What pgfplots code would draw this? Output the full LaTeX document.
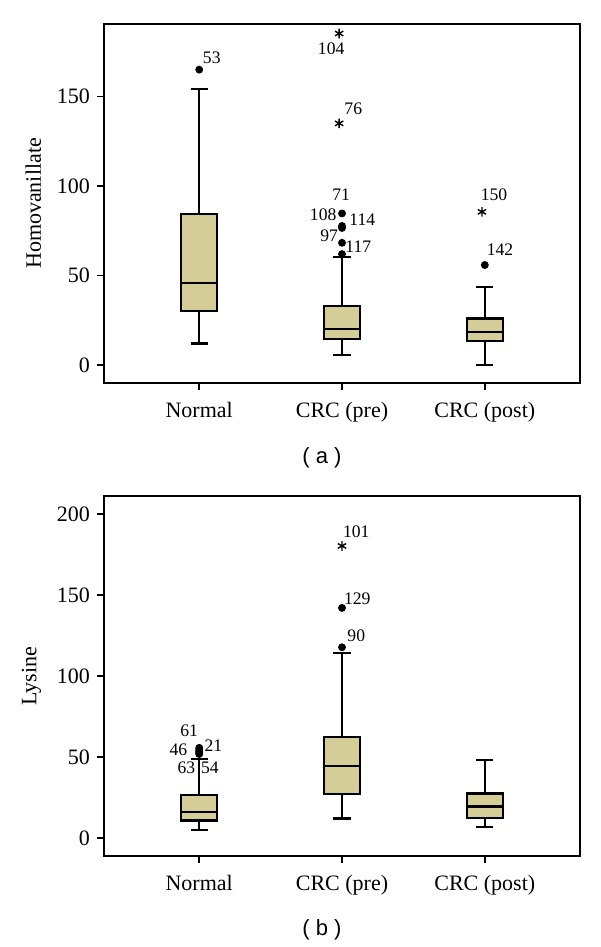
\documentclass[border=0pt]{standalone}
\usepackage{fontspec}
\setmainfont{Liberation Serif}
\newfontfamily\capfont{Liberation Sans}
\usepackage{pgfplots}
\pgfplotsset{compat=1.18}
\usepgfplotslibrary{statistics}
\definecolor{boxfill}{RGB}{212,205,152}
\tikzset{lab/.style={font=\fontsize{8.8}{10}\selectfont, inner sep=0pt}}
\pgfplotsset{
  myaxis/.style={
    scale only axis,
    width=238pt,
    xmin=1/3, xmax=3+2/3,
    xtick={1,2,3},
    xticklabels={Normal, CRC (pre), CRC (post)},
    tick align=outside,
    xtick pos=bottom,
    ytick pos=left,
    major tick length=3.5pt,
    every tick/.style={black, line width=0.8pt},
    axis line style={black, line width=0.8pt},
    tick label style={font=\fontsize{11}{13}\selectfont},
    xticklabel style={yshift=-2.5pt},
    label style={font=\fontsize{11}{13}\selectfont},
    ylabel style={xshift=0pt, yshift=1pt},
    /pgf/number format/assume math mode=true,
    clip=false,
    boxplot/draw direction=y,
  },
  mybox/.style={fill=boxfill, draw=black, line width=1.1pt,
    boxplot/draw direction=y,
    boxplot/box extend=0.25, boxplot/whisker extend=0.12},
  dot/.style={only marks, mark=*, mark size=1.75pt, black},
  star/.style={only marks, mark=asterisk, mark size=2.4pt, black, mark options={line width=0.7pt}},
}
\begin{document}
\begin{tikzpicture}
\path[use as bounding box] (0,0) rectangle (300pt,-473.5pt);
% ---------------- (a)
\begin{axis}[myaxis, at={(52pt,-12pt)}, anchor=north west,
  height=179.5pt, ymin=-10, ymax=190.5, ytick={0,50,100,150},
  ylabel={Homovanillate}]
\addplot[mybox, boxplot prepared={draw position=1, lower whisker=12.1, lower quartile=30.2, median=46, upper quartile=84.4, upper whisker=154}] coordinates {};
\addplot[mybox, boxplot prepared={draw position=2, lower whisker=5.6, lower quartile=14.5, median=20, upper quartile=33, upper whisker=60.5}] coordinates {};
\addplot[mybox, boxplot prepared={draw position=3, lower whisker=0, lower quartile=13.6, median=18.6, upper quartile=26, upper whisker=43.4}] coordinates {};
\addplot[dot] coordinates {(1,165) (2,84.7) (2,77.7) (2,76.6) (2,68.3) (2,62) (3,55.9)};
\addplot[star] coordinates {(1.98,185.2) (1.98,135) (2.98,85.6)};
\node[lab] at (axis cs:1.088,171.5) {53};
\node[lab] at (axis cs:1.924,176.5) {104};
\node[lab] at (axis cs:2.079,143) {76};
\node[lab] at (axis cs:1.994,95) {71};
\node[lab] at (axis cs:1.868,84.2) {108};
\node[lab] at (axis cs:2.142,81.4) {114};
\node[lab] at (axis cs:1.910,72.2) {97};
\node[lab] at (axis cs:2.114,66.1) {117};
\node[lab] at (axis cs:3.065,95) {150};
\node[lab] at (axis cs:3.107,64.6) {142};
\end{axis}
\node[font=\capfont\fontsize{11}{13}\selectfont] at (161pt,-229pt) {( a )};
% ---------------- (b)
\begin{axis}[myaxis, at={(52pt,-248pt)}, anchor=north west,
  height=180pt, ymin=-11, ymax=211, ytick={0,50,100,150,200},
  ylabel={Lysine}]
\addplot[mybox, boxplot prepared={draw position=1, lower whisker=5.1, lower quartile=10.9, median=16.2, upper quartile=26.5, upper whisker=49}] coordinates {};
\addplot[mybox, boxplot prepared={draw position=2, lower whisker=12.1, lower quartile=27.2, median=44.4, upper quartile=62.2, upper whisker=114.4}] coordinates {};
\addplot[mybox, boxplot prepared={draw position=3, lower whisker=6.8, lower quartile=12.5, median=19.5, upper quartile=27.5, upper whisker=48.1}] coordinates {};
\addplot[dot] coordinates {(1,55.7) (1,54.5) (1,53.5) (1,52.7) (1,51.9) (2,142) (2,117.7)};
\addplot[star] coordinates {(2,180.2)};
\node[lab] at (axis cs:2.1,188.7) {101};
\node[lab] at (axis cs:2.107,147.5) {129};
\node[lab] at (axis cs:2.1,124.7) {90};
\node[lab] at (axis cs:0.93,66.2) {61};
\node[lab] at (axis cs:0.855,54.3) {46};
\node[lab] at (axis cs:1.1,57) {21};
\node[lab] at (axis cs:0.91,43.4) {63};
\node[lab] at (axis cs:1.075,43.4) {54};
\end{axis}
\node[font=\capfont\fontsize{11}{13}\selectfont] at (161pt,-465pt) {( b )};
\end{tikzpicture}
\end{document}
